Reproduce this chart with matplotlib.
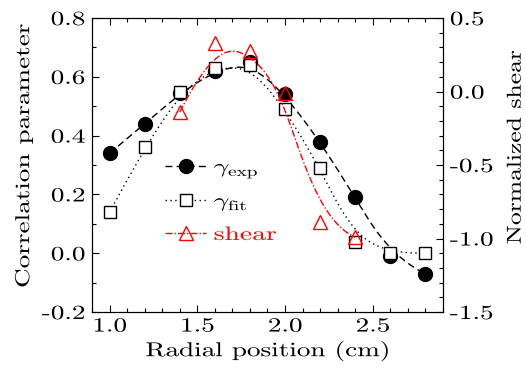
import numpy as np
import matplotlib
matplotlib.use("Agg")
import matplotlib.pyplot as plt
from matplotlib.ticker import MultipleLocator, FuncFormatter
from matplotlib.lines import Line2D
from matplotlib.patheffects import AbstractPathEffect
from matplotlib.transforms import Affine2D

plt.rcParams['font.family'] = ['cmr10', 'DejaVu Serif']
plt.rcParams['mathtext.fontset'] = 'cm'
plt.rcParams['axes.unicode_minus'] = False

# ---- data ----
radial = [1.0, 1.2, 1.4, 1.6, 1.8, 2.0, 2.2, 2.4, 2.6, 2.8]
gamma_exp = [0.34, 0.44, 0.545, 0.62, 0.65, 0.54, 0.38, 0.19, -0.01, -0.07]
gamma_fit = [0.14, 0.36, 0.55, 0.63, 0.64, 0.49, 0.29, 0.04, 0.0, 0.0]
shear_x = [1.4, 1.6, 1.8, 2.0, 2.2, 2.4]
shear = [-0.14, 0.33, 0.275, -0.01, -0.888, -0.99]

xlabel = "Radial position (cm)"
ylabel_left = "Correlation parameter"
ylabel_right = "Normalized shear"
legend_labels = [r"$\gamma_{\rm exp}$", r"$\gamma_{\rm fit}$", "shear"]

STRETCH = 1.35


class HStretch(AbstractPathEffect):
    """Widen glyphs along the text direction (the reference font is wide)."""

    def __init__(self, sx, anchor='center'):
        super().__init__()
        self.sx = sx
        self.anchor = anchor

    def draw_path(self, renderer, gc, tpath, affine, rgbFace=None):
        v = tpath.vertices
        if len(v) == 0:
            return renderer.draw_path(gc, tpath, affine, rgbFace)
        xmin, xmax = v[:, 0].min(), v[:, 0].max()
        c = {'left': xmin, 'center': 0.5 * (xmin + xmax), 'right': xmax}[self.anchor]
        pre = Affine2D().translate(-c, 0).scale(self.sx, 1).translate(c, 0)
        renderer.draw_path(gc, tpath, pre + affine, rgbFace)


def bspline(xs, ys, k=3, num=300):
    """Clamped uniform B-spline smoothing line (Origin-style B-spline connector)."""
    xs = np.asarray(xs, float)
    ys = np.asarray(ys, float)
    n = len(xs)
    t = np.concatenate([np.zeros(k + 1), np.arange(1, n - k), np.full(k + 1, n - k)]).astype(float)
    u = np.linspace(0, n - k, num)
    B = np.zeros((num, len(t) - 1))
    for i in range(len(t) - 1):
        B[:, i] = (t[i] <= u) & (u < t[i + 1])
    last = np.where(t[:-1] < t[1:])[0][-1]
    B[u >= t[-1], last] = 1.0
    for p in range(1, k + 1):
        Bn = np.zeros((num, len(t) - 1 - p))
        for i in range(len(t) - 1 - p):
            d1 = t[i + p] - t[i]
            d2 = t[i + p + 1] - t[i + 1]
            a = (u - t[i]) / d1 * B[:, i] if d1 > 0 else 0.0
            b = (t[i + p + 1] - u) / d2 * B[:, i + 1] if d2 > 0 else 0.0
            Bn[:, i] = a + b
        B = Bn
    return B @ xs, B @ ys


fig = plt.figure(figsize=(5.26, 3.76), dpi=100)
ax = fig.add_axes([0.175, 0.170, 0.667, 0.782])
ax2 = ax.twinx()

DASH = (0, (5, 3))
DOT = (0, (1, 2.5))
DASHDOT = (0, (5, 1.5, 1, 1.5))

# gamma_exp
sx, sy = bspline(radial, gamma_exp)
ax.plot(sx, sy, color='black', lw=1.0, ls=DASH)
ax.plot(radial, gamma_exp, 'o', color='black', ms=10, ls='none')
# gamma_fit
sx, sy = bspline(radial, gamma_fit)
ax.plot(sx, sy, color='black', lw=1.0, ls=DOT)
ax.plot(radial, gamma_fit, 's', mfc='white', mec='black', mew=1.0, ms=8.5, ls='none')
# shear
sx, sy = bspline(shear_x, shear)
ax2.plot(sx, sy, color='red', lw=1.0, ls=DASHDOT)
ax2.plot(shear_x, shear, '^', mfc='none', mec='red', mew=1.0, ms=10, ls='none')

ax.set_xlim(0.9, 2.9)
ax.set_ylim(-0.2, 0.8)
ax2.set_ylim(-1.5, 0.5)

ax.xaxis.set_major_locator(MultipleLocator(0.5))
ax.xaxis.set_minor_locator(MultipleLocator(0.1))
ax.yaxis.set_major_locator(MultipleLocator(0.2))
ax.yaxis.set_minor_locator(MultipleLocator(0.1))
ax2.yaxis.set_major_locator(MultipleLocator(0.5))
ax2.yaxis.set_minor_locator(MultipleLocator(0.1))
fmt = FuncFormatter(lambda v, p: f"{v:.1f}".replace("-0.0", "0.0"))
ax.xaxis.set_major_formatter(fmt)
ax.yaxis.set_major_formatter(fmt)
ax2.yaxis.set_major_formatter(fmt)

FS = 14.5
ax.tick_params(axis='both', which='both', direction='in', labelsize=FS, width=0.8)
ax.tick_params(axis='x', which='both', top=True)
ax.tick_params(which='major', length=5)
ax.tick_params(which='minor', length=3)
ax.tick_params(axis='y', right=False, pad=5)
ax.tick_params(axis='x', pad=4)
ax2.tick_params(axis='y', which='both', direction='in', labelsize=FS, width=0.8, pad=5)
ax2.tick_params(which='major', length=5)
ax2.tick_params(which='minor', length=3)

xl = ax.set_xlabel(xlabel, fontsize=FS, labelpad=4)
yl = ax.set_ylabel(ylabel_left, fontsize=FS)
yr = ax2.set_ylabel(ylabel_right, fontsize=FS)
ax.yaxis.set_label_coords(-0.168, 0.53)
ax2.yaxis.set_label_coords(1.182, 0.56)
xl.set_path_effects([HStretch(STRETCH, 'center')])
yl.set_path_effects([HStretch(STRETCH, 'center')])
yr.set_path_effects([HStretch(1.27, 'center')])

handles = [
    Line2D([], [], color='black', lw=1.0, ls=DASH, marker='o', ms=10),
    Line2D([], [], color='black', lw=1.0, ls=DOT, marker='s', mfc='white', mec='black', ms=8.5),
    Line2D([], [], color='red', lw=1.0, ls=DASHDOT, marker='^', mfc='none', mec='red', ms=10),
]
leg = ax2.legend(handles, legend_labels, loc='upper left', bbox_to_anchor=(0.186, 0.548),
                 frameon=False, fontsize=14, handlelength=2.1, handletextpad=0.4,
                 labelspacing=0.62, numpoints=1, borderaxespad=0.0)
leg.get_texts()[2].set_color('red')
for t in leg.get_texts():
    t.set_path_effects([HStretch(1.42, 'left')])

for s in ax.spines.values():
    s.set_linewidth(0.8)

fig.canvas.draw()
for t in ax.get_xticklabels():
    t.set_path_effects([HStretch(STRETCH, 'center')])
for t in ax.get_yticklabels():
    t.set_path_effects([HStretch(STRETCH, 'right')])
for t in ax2.get_yticklabels():
    t.set_path_effects([HStretch(STRETCH, 'left')])

fig.savefig("out.png", dpi=100)
